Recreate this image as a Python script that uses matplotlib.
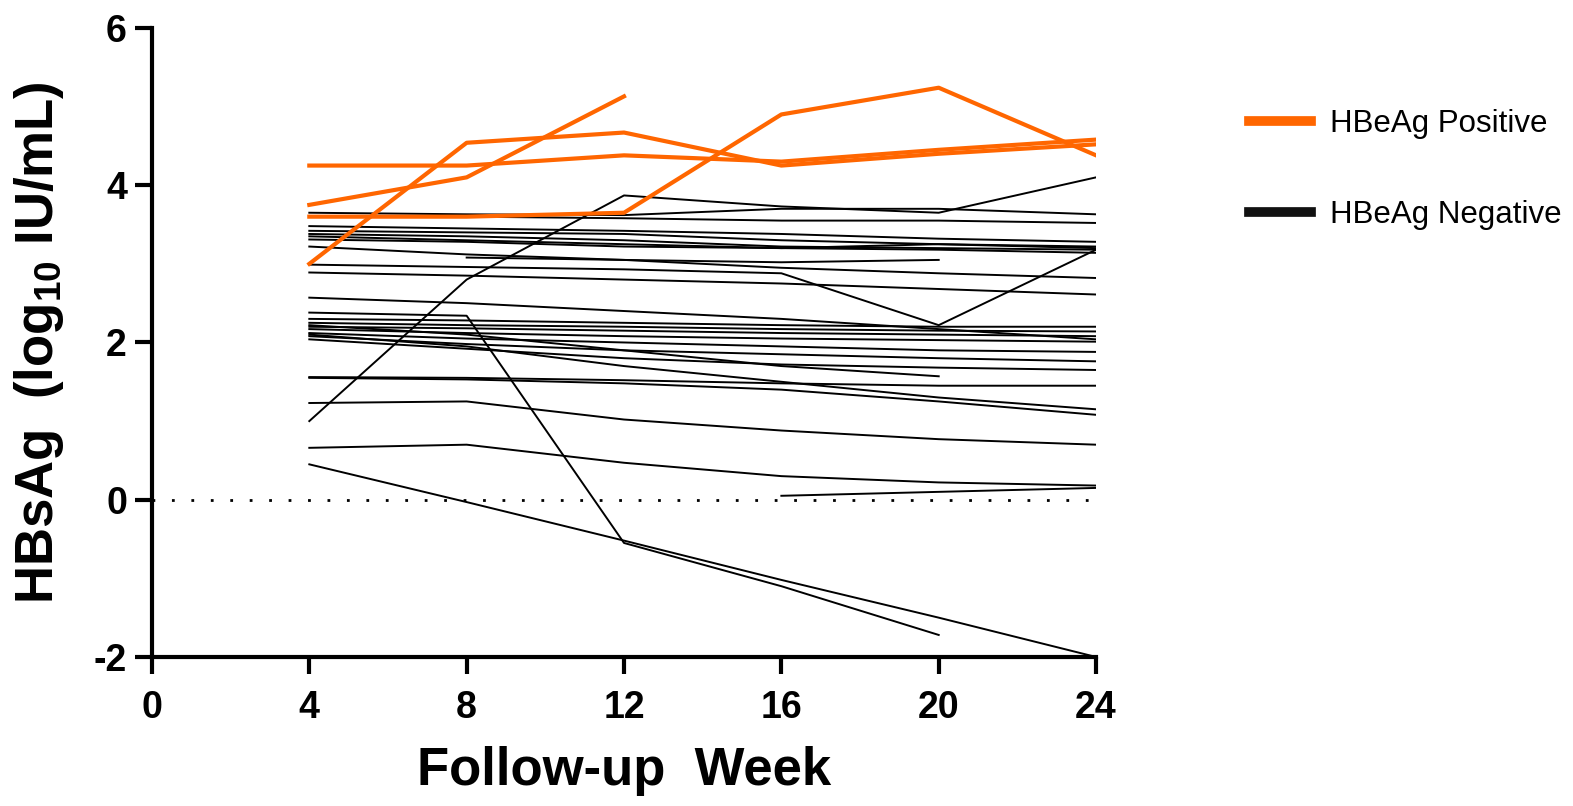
import numpy as np
import matplotlib.pyplot as plt
from matplotlib.lines import Line2D

plt.rcParams['font.family'] = ['Liberation Sans', 'DejaVu Sans']
plt.rcParams['mathtext.fontset'] = 'custom'
plt.rcParams['mathtext.rm'] = 'Liberation Sans:bold'
plt.rcParams['mathtext.bf'] = 'Liberation Sans:bold'
plt.rcParams['mathtext.default'] = 'bf'
plt.rcParams['axes.unicode_minus'] = False

nan = np.nan
weeks = [4, 8, 12, 16, 20, 24]

# HBeAg positive patients (log10 IU/mL)
positive = [
    [3.75, 4.10, 5.13, nan, nan, nan],
    [3.00, 4.54, 4.67, 4.25, 4.40, 4.52],
    [4.25, 4.25, 4.38, 4.30, 4.45, 4.58],
    [3.60, 3.60, 3.65, 4.90, 5.24, 4.38],
]

# HBeAg negative patients (log10 IU/mL)
negative = [
    [1.00, 2.80, 3.87, 3.73, 3.65, 4.10],
    [3.65, 3.63, 3.62, 3.70, 3.70, 3.63],
    [3.60, 3.60, 3.58, 3.55, 3.55, 3.52],
    [3.48, 3.45, 3.42, 3.38, 3.32, 3.28],
    [3.42, 3.40, 3.38, 3.30, 3.25, 3.22],
    [3.38, 3.35, 3.30, 3.22, 3.20, 3.18],
    [3.35, 3.30, 3.25, 3.20, 3.18, 3.14],
    [3.31, 3.28, 3.22, 3.20, 3.25, 3.20],
    [3.22, 3.12, 3.05, 2.95, 2.88, 2.82],
    [2.99, 2.96, 2.93, 2.88, 2.22, 3.18],
    [2.89, 2.85, 2.80, 2.75, 2.68, 2.61],
    [nan, 3.08, 3.05, 3.02, 3.05, nan],
    [2.57, 2.50, 2.40, 2.30, 2.17, 2.04],
    [2.38, 2.34, -0.55, -1.10, -1.72, nan],
    [2.30, 2.28, 2.25, 2.22, 2.20, 2.20],
    [2.25, 2.22, 2.20, 2.17, 2.15, 2.14],
    [2.20, 2.18, 2.15, 2.12, 2.10, 2.08],
    [2.17, 2.12, 2.08, 2.05, 2.03, 2.01],
    [2.12, 2.05, 2.00, 1.95, 1.90, 1.88],
    [2.08, 1.98, 1.90, 1.85, 1.80, 1.76],
    [2.04, 1.92, 1.80, 1.72, 1.68, 1.65],
    [2.22, 2.10, 1.90, 1.70, 1.57, nan],
    [2.10, 1.95, 1.70, 1.50, 1.30, 1.15],
    [1.55, 1.53, 1.48, 1.40, 1.25, 1.08],
    [1.56, 1.55, 1.52, 1.48, 1.45, 1.45],
    [1.23, 1.25, 1.02, 0.88, 0.77, 0.70],
    [0.66, 0.70, 0.47, 0.30, 0.22, 0.18],
    [0.45, -0.03, -0.52, -1.02, -1.50, -2.00],
    [nan, nan, nan, 0.05, 0.10, 0.15],
]

orange = '#ff6600'

fig = plt.figure(figsize=(15.73, 8.06), dpi=100)
ax = fig.add_axes([0.0966, 0.1849, 0.6002, 0.7804])

ax.plot([0, 24], [0, 0], color='black', linestyle=(0, (1, 6)), lw=2, zorder=1)

for vals in negative:
    ax.plot(weeks, vals, color='black', lw=1.4, zorder=2)
for vals in positive:
    ax.plot(weeks, vals, color=orange, lw=3, zorder=3)

ax.set_xlim(0, 24)
ax.set_ylim(-2, 6)
ax.set_xticks([0, 4, 8, 12, 16, 20, 24])
ax.set_yticks([-2, 0, 2, 4, 6])
for s in ['top', 'right']:
    ax.spines[s].set_visible(False)
for s in ['left', 'bottom']:
    ax.spines[s].set_linewidth(3)
ax.tick_params(width=3, length=12, labelsize=27)
ax.tick_params(axis='x', pad=12)
ax.tick_params(axis='y', pad=6)
for lab in ax.get_xticklabels() + ax.get_yticklabels():
    lab.set_fontweight('bold')

ax.set_xlabel('Follow-up  Week', fontsize=38, fontweight='bold', labelpad=14)
ax.set_ylabel(r'HBsAg  (log$_{10}$ IU/mL)', fontsize=38, fontweight='bold', labelpad=20)

handles = [Line2D([], [], color=orange, lw=7),
           Line2D([], [], color='#111111', lw=7)]
fig.legend(handles, ['HBeAg Positive', 'HBeAg Negative'], loc='upper left',
           bbox_to_anchor=(0.776, 0.9), frameon=False, fontsize=22.5,
           handlelength=2.0, handletextpad=0.6, labelspacing=1.95)

fig.savefig('out.png', dpi=100)
